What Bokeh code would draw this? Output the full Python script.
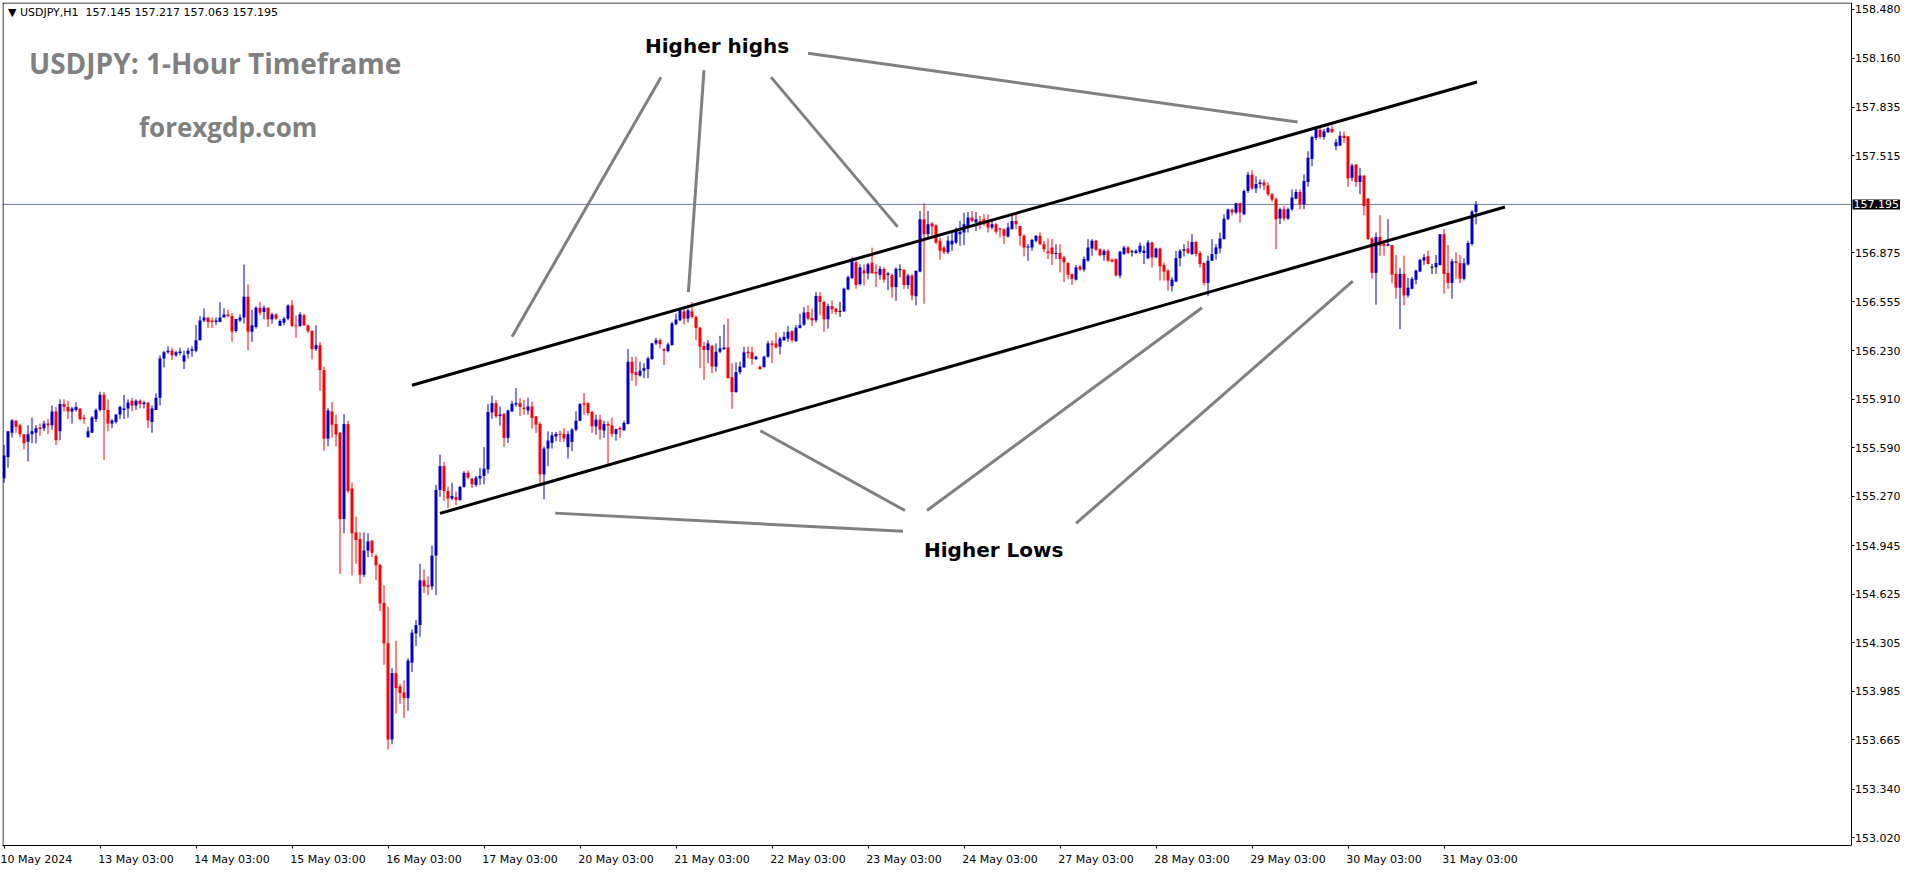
from bokeh.plotting import figure
from bokeh.models import (FixedTicker, PrintfTickFormatter, Span, Label, Range1d,
                          ColumnDataSource)
from bokeh.embed import file_html
from bokeh.resources import INLINE

# ---------------- data (USDJPY H1 candles, bar index 0 = 10 May 2024 03:00) -------------
bar_open = [
    155.39, 155.53, 155.69, 155.77, 155.74, 155.68, 155.63, 155.68, 155.69, 155.725,
    155.72, 155.75, 155.74, 155.83, 155.70, 155.88, 155.86, 155.83, 155.84, 155.85,
    155.79, 155.66, 155.69, 155.78, 155.84, 155.94, 155.84, 155.75, 155.76, 155.81,
    155.84, 155.85, 155.90, 155.87, 155.90, 155.88, 155.89, 155.76, 155.84, 155.92,
    156.18, 156.22, 156.23, 156.20, 156.215, 156.16, 156.21, 156.23, 156.23, 156.30,
    156.43, 156.45, 156.43, 156.42, 156.42, 156.45, 156.47, 156.46, 156.36, 156.43,
    156.449, 156.586, 156.355, 156.387, 156.514, 156.486, 156.514, 156.438, 156.470, 156.394,
    156.416, 156.442, 156.529, 156.396, 156.394, 156.464, 156.398, 156.361, 156.241, 156.267,
    156.103, 155.651, 155.830, 155.747, 155.689, 155.121, 155.747, 155.322, 155.033, 154.990,
    154.754, 154.913, 154.979, 154.876, 154.819, 154.568, 154.302, 153.668, 154.105, 154.018,
    153.978, 153.941, 154.175, 154.367, 154.422, 154.717, 154.684, 154.677, 154.880, 155.313,
    155.470, 155.306, 155.256, 155.267, 155.247, 155.333, 155.426, 155.387, 155.346, 155.389,
    155.405, 155.448, 155.824, 155.885, 155.800,
    155.816, 155.656, 155.831, 155.875, 155.885, 155.855, 155.837, 155.863, 155.798, 155.748,
    155.416, 155.586, 155.623, 155.665, 155.682, 155.682, 155.595, 155.630, 155.710, 155.769,
    155.883, 155.885, 155.826, 155.732, 155.776, 155.704, 155.748, 155.739, 155.682, 155.721,
    155.706, 155.748, 156.158, 156.089, 156.067, 156.099, 156.110, 156.176, 156.279, 156.300,
    156.241, 156.228, 156.268, 156.405, 156.431, 156.490, 156.442, 156.490, 156.453, 156.383,
    156.261, 156.235, 156.263, 156.126, 156.224, 156.241, 156.252, 156.056, 155.958, 156.089,
    156.121, 156.224, 156.220, 156.176, 156.126, 156.123, 156.191, 156.279, 156.279, 156.257,
    156.300, 156.311, 156.359, 156.294, 156.381, 156.403, 156.486, 156.446, 156.431, 156.591,
    156.552, 156.438, 156.525, 156.508, 156.490, 156.490, 156.635, 156.709, 156.813, 156.670,
    156.760, 156.740, 156.810, 156.750, 156.730, 156.770, 156.730, 156.730, 156.650, 156.765,
    156.765, 156.664, 156.726, 156.590, 156.752, 157.097, 156.999, 157.070, 157.058, 156.955,
    156.911, 156.879, 156.930, 156.944, 156.999, 157.010, 157.053, 157.108, 157.075, 157.086,
    157.097, 157.086, 157.042, 157.064, 157.036, 157.031, 156.983, 157.031, 157.086, 157.053,
    156.988, 156.911, 156.911, 156.955, 156.988, 156.933, 156.885, 156.911, 156.868, 156.874,
    156.846, 156.809, 156.737, 156.699, 156.787, 156.765, 156.824, 156.905, 156.955, 156.900,
    156.861, 156.889, 156.830, 156.835, 156.726, 156.868, 156.911, 156.883, 156.874, 156.883,
    156.874, 156.839, 156.944, 156.846, 156.905, 156.796, 156.758, 156.656, 156.686, 156.841,
    156.889, 156.905, 156.868, 156.948, 156.874, 156.809, 156.678, 156.824, 156.868, 156.905,
    156.966, 157.097, 157.162, 157.141, 157.202, 157.130, 157.283, 157.390, 157.300, 157.330,
    157.340, 157.320, 157.262, 157.229, 157.102, 157.163, 157.102, 157.163, 157.233, 157.277,
    157.196, 157.342, 157.495, 157.633, 157.687, 157.639, 157.670, 157.692, 157.578, 157.583,
    157.648, 157.644, 157.371, 157.458, 157.342, 157.386, 157.233, 156.971, 156.744, 156.981,
    156.934, 156.923, 156.927, 156.737, 156.646, 156.737, 156.595, 156.639, 156.698, 156.753,
    156.825, 156.853, 156.781, 156.781, 156.796, 156.999, 156.744, 156.678, 156.820, 156.809,
    156.705, 156.799, 156.934, 157.145,
]
bar_high = [
    155.61, 155.70, 155.78, 155.77, 155.75, 155.68, 155.74, 155.79, 155.74, 155.75,
    155.77, 155.78, 155.87, 155.86, 155.91, 155.91, 155.90, 155.86, 155.89, 155.85,
    155.81, 155.73, 155.80, 155.85, 155.96, 155.96, 155.91, 155.78, 155.81, 155.87,
    155.94, 155.91, 155.92, 155.91, 155.91, 155.90, 155.89, 155.87, 155.95, 156.20,
    156.23, 156.26, 156.25, 156.23, 156.25, 156.23, 156.25, 156.26, 156.40, 156.46,
    156.51, 156.45, 156.45, 156.45, 156.55, 156.51, 156.50, 156.48, 156.44, 156.47,
    156.798, 156.667, 156.500, 156.523, 156.551, 156.529, 156.514, 156.481, 156.477, 156.438,
    156.453, 156.536, 156.566, 156.464, 156.486, 156.475, 156.403, 156.366, 156.398, 156.289,
    156.125, 155.852, 155.892, 155.809, 155.695, 155.813, 155.769, 155.361, 155.138, 155.033,
    155.033, 155.027, 154.979, 154.891, 154.826, 154.684, 154.542, 154.138, 154.319, 154.035,
    154.057, 154.203, 154.393, 154.455, 154.826, 154.787, 154.743, 154.946, 155.346, 155.546,
    155.498, 155.335, 155.361, 155.302, 155.339, 155.437, 155.442, 155.394, 155.405, 155.459,
    155.595, 155.879, 155.935, 155.907, 155.863,
    155.816, 155.842, 155.900, 155.984, 155.918, 155.907, 155.922, 155.896, 155.800, 155.760,
    155.600, 155.699, 155.695, 155.695, 155.704, 155.721, 155.700, 155.721, 155.831, 155.885,
    155.951, 155.892, 155.835, 155.809, 155.809, 155.769, 155.765, 155.791, 155.715, 155.732,
    155.769, 156.241, 156.191, 156.191, 156.158, 156.148, 156.191, 156.283, 156.316, 156.311,
    156.250, 156.285, 156.421, 156.475, 156.508, 156.508, 156.508, 156.552, 156.464, 156.388,
    156.289, 156.300, 156.268, 156.279, 156.329, 156.403, 156.442, 156.148, 156.154, 156.158,
    156.257, 156.257, 156.257, 156.198, 156.132, 156.198, 156.296, 156.300, 156.351, 156.322,
    156.355, 156.394, 156.366, 156.399, 156.475, 156.519, 156.530, 156.508, 156.617, 156.617,
    156.562, 156.541, 156.562, 156.512, 156.552, 156.646, 156.726, 156.846, 156.835, 156.800,
    156.800, 156.810, 156.910, 156.800, 156.790, 156.780, 156.750, 156.740, 156.780, 156.800,
    156.765, 156.737, 156.737, 156.758, 157.152, 157.202, 157.152, 157.079, 157.064, 156.977,
    156.922, 156.988, 157.014, 157.042, 157.086, 157.141, 157.145, 157.152, 157.145, 157.119,
    157.130, 157.130, 157.101, 157.075, 157.042, 157.036, 157.075, 157.130, 157.130, 157.053,
    156.999, 156.933, 156.966, 156.992, 157.010, 156.955, 156.970, 156.966, 156.933, 156.933,
    156.857, 156.813, 156.737, 156.796, 156.796, 156.852, 156.966, 156.966, 156.962, 156.905,
    156.900, 156.900, 156.839, 156.839, 156.889, 156.922, 156.922, 156.896, 156.900, 156.944,
    156.922, 156.959, 156.948, 156.911, 156.911, 156.813, 156.769, 156.715, 156.889, 156.900,
    156.933, 156.955, 156.999, 156.955, 156.889, 156.813, 156.857, 156.966, 156.933, 157.010,
    157.130, 157.167, 157.167, 157.206, 157.206, 157.293, 157.410, 157.420, 157.380, 157.360,
    157.360, 157.340, 157.270, 157.240, 157.174, 157.185, 157.174, 157.294, 157.294, 157.294,
    157.393, 157.545, 157.648, 157.705, 157.698, 157.692, 157.709, 157.714, 157.626, 157.677,
    157.677, 157.644, 157.465, 157.458, 157.436, 157.386, 157.237, 156.978, 157.010, 157.124,
    156.945, 157.098, 156.927, 156.862, 156.777, 156.857, 156.711, 156.716, 156.764, 156.836,
    156.868, 156.890, 156.803, 156.862, 156.999, 157.032, 156.927, 156.836, 156.879, 156.862,
    156.840, 156.956, 157.157, 157.217,
]
bar_low = [
    155.36, 155.46, 155.66, 155.69, 155.66, 155.58, 155.50, 155.62, 155.62, 155.67,
    155.70, 155.68, 155.71, 155.61, 155.64, 155.83, 155.78, 155.75, 155.83, 155.77,
    155.75, 155.66, 155.69, 155.76, 155.83, 155.51, 155.70, 155.72, 155.75, 155.78,
    155.78, 155.79, 155.83, 155.84, 155.85, 155.85, 155.72, 155.69, 155.84, 155.87,
    156.12, 156.21, 156.17, 156.19, 156.20, 156.11, 156.18, 156.19, 156.22, 156.30,
    156.42, 156.38, 156.38, 156.40, 156.42, 156.45, 156.45, 156.29, 156.35, 156.42,
    156.409, 156.234, 156.289, 156.376, 156.464, 156.438, 156.387, 156.409, 156.435, 156.394,
    156.398, 156.431, 156.387, 156.315, 156.387, 156.394, 156.348, 156.173, 156.228, 155.966,
    155.573, 155.601, 155.656, 155.601, 154.760, 155.027, 155.295, 154.749, 154.826, 154.695,
    154.738, 154.870, 154.870, 154.717, 154.514, 154.160, 153.603, 153.636, 153.839, 153.904,
    153.810, 153.858, 154.112, 154.284, 154.345, 154.634, 154.618, 154.655, 154.618, 155.267,
    155.241, 155.193, 155.245, 155.212, 155.241, 155.328, 155.383, 155.324, 155.333, 155.346,
    155.350, 155.420, 155.782, 155.787, 155.737,
    155.597, 155.623, 155.826, 155.860, 155.800, 155.809, 155.809, 155.717, 155.689, 155.361,
    155.252, 155.470, 155.586, 155.634, 155.630, 155.630, 155.520, 155.569, 155.700, 155.765,
    155.809, 155.804, 155.689, 155.678, 155.645, 155.656, 155.485, 155.660, 155.638, 155.656,
    155.704, 155.744, 156.032, 155.999, 156.060, 156.049, 156.049, 156.169, 156.268, 156.246,
    156.137, 156.220, 156.263, 156.399, 156.425, 156.403, 156.416, 156.442, 156.300, 156.115,
    156.038, 156.148, 156.082, 156.093, 156.213, 156.235, 156.049, 155.848, 155.953, 156.075,
    156.119, 156.180, 156.137, 156.169, 156.104, 156.119, 156.185, 156.148, 156.246, 156.206,
    156.296, 156.289, 156.285, 156.289, 156.377, 156.394, 156.431, 156.394, 156.416, 156.464,
    156.355, 156.377, 156.475, 156.469, 156.453, 156.486, 156.628, 156.704, 156.640, 156.660,
    156.660, 156.700, 156.740, 156.650, 156.700, 156.680, 156.630, 156.580, 156.560, 156.715,
    156.638, 156.638, 156.562, 156.529, 156.747, 156.540, 156.977, 156.988, 156.933, 156.830,
    156.868, 156.868, 156.889, 156.933, 156.922, 156.927, 157.010, 157.079, 157.020, 157.031,
    157.053, 157.010, 157.031, 156.999, 156.977, 156.933, 156.977, 157.031, 157.031, 156.922,
    156.852, 156.824, 156.889, 156.944, 156.927, 156.880, 156.835, 156.796, 156.835, 156.747,
    156.682, 156.704, 156.664, 156.693, 156.758, 156.752, 156.817, 156.857, 156.889, 156.852,
    156.824, 156.817, 156.813, 156.721, 156.708, 156.861, 156.868, 156.852, 156.868, 156.868,
    156.802, 156.835, 156.780, 156.841, 156.693, 156.693, 156.627, 156.621, 156.682, 156.787,
    156.852, 156.868, 156.861, 156.852, 156.780, 156.660, 156.590, 156.824, 156.830, 156.874,
    156.966, 157.093, 157.123, 157.130, 157.075, 157.123, 157.270, 157.290, 157.270, 157.300,
    157.290, 157.250, 157.210, 156.900, 157.065, 157.087, 157.093, 157.152, 157.229, 157.163,
    157.163, 157.312, 157.447, 157.618, 157.626, 157.622, 157.666, 157.666, 157.552, 157.578,
    157.600, 157.312, 157.349, 157.312, 157.262, 157.124, 156.960, 156.705, 156.534, 156.857,
    156.857, 156.920, 156.678, 156.574, 156.373, 156.530, 156.580, 156.635, 156.668, 156.748,
    156.796, 156.799, 156.737, 156.737, 156.792, 156.606, 156.639, 156.574, 156.705, 156.676,
    156.694, 156.792, 156.923, 157.063,
]
bar_close = [
    155.54, 155.70, 155.77, 155.73, 155.68, 155.62, 155.68, 155.70, 155.72, 155.715,
    155.75, 155.74, 155.83, 155.64, 155.88, 155.86, 155.83, 155.85, 155.86, 155.78,
    155.78, 155.70, 155.79, 155.84, 155.94, 155.84, 155.75, 155.77, 155.81, 155.86,
    155.85, 155.89, 155.87, 155.90, 155.88, 155.89, 155.77, 155.85, 155.92, 156.18,
    156.22, 156.23, 156.20, 156.22, 156.225, 156.20, 156.23, 156.24, 156.30, 156.43,
    156.45, 156.42, 156.42, 156.43, 156.45, 156.47, 156.46, 156.355, 156.44, 156.45,
    156.586, 156.355, 156.398, 156.514, 156.481, 156.514, 156.438, 156.470, 156.442, 156.427,
    156.442, 156.529, 156.394, 156.392, 156.470, 156.398, 156.359, 156.241, 156.267, 156.103,
    155.651, 155.837, 155.743, 155.678, 155.121, 155.747, 155.306, 155.027, 154.983, 154.754,
    154.913, 154.974, 154.898, 154.815, 154.564, 154.302, 153.668, 154.105, 154.007, 153.974,
    153.941, 154.188, 154.372, 154.422, 154.717, 154.677, 154.673, 154.880, 155.313, 155.470,
    155.306, 155.256, 155.274, 155.247, 155.333, 155.426, 155.394, 155.350, 155.394, 155.405,
    155.453, 155.826, 155.885, 155.798, 155.810,
    155.656, 155.837, 155.881, 155.885, 155.860, 155.846, 155.863, 155.787, 155.743, 155.416,
    155.586, 155.638, 155.673, 155.682, 155.678, 155.652, 155.680, 155.710, 155.769, 155.879,
    155.874, 155.820, 155.732, 155.776, 155.710, 155.748, 155.737, 155.682, 155.715, 155.710,
    155.754, 156.158, 156.082, 156.071, 156.099, 156.115, 156.180, 156.279, 156.300, 156.274,
    156.231, 156.272, 156.410, 156.436, 156.497, 156.442, 156.497, 156.453, 156.381, 156.257,
    156.235, 156.279, 156.126, 156.224, 156.246, 156.252, 156.049, 155.958, 156.089, 156.126,
    156.220, 156.213, 156.176, 156.191, 156.110, 156.191, 156.279, 156.268, 156.252, 156.311,
    156.322, 156.355, 156.300, 156.383, 156.399, 156.482, 156.442, 156.431, 156.591, 156.552,
    156.438, 156.525, 156.504, 156.486, 156.490, 156.639, 156.715, 156.825, 156.664, 156.780,
    156.740, 156.800, 156.740, 156.740, 156.770, 156.700, 156.740, 156.650, 156.770, 156.765,
    156.664, 156.726, 156.595, 156.758, 157.097, 156.999, 157.064, 157.049, 156.944, 156.889,
    156.879, 156.955, 156.955, 157.020, 157.014, 157.064, 157.108, 157.086, 157.097, 157.064,
    157.075, 157.042, 157.064, 157.014, 157.031, 156.988, 157.042, 157.086, 157.064, 156.988,
    156.911, 156.918, 156.962, 156.988, 156.933, 156.900, 156.874, 156.868, 156.874, 156.835,
    156.813, 156.732, 156.704, 156.780, 156.765, 156.835, 156.911, 156.955, 156.896, 156.861,
    156.889, 156.824, 156.817, 156.726, 156.883, 156.911, 156.874, 156.883, 156.889, 156.922,
    156.889, 156.944, 156.846, 156.905, 156.787, 156.752, 156.693, 156.699, 156.841, 156.889,
    156.900, 156.874, 156.948, 156.868, 156.802, 156.678, 156.824, 156.868, 156.911, 156.970,
    157.101, 157.162, 157.141, 157.202, 157.141, 157.283, 157.390, 157.300, 157.330, 157.340,
    157.320, 157.262, 157.228, 157.098, 157.163, 157.102, 157.163, 157.240, 157.277, 157.196,
    157.349, 157.502, 157.639, 157.692, 157.639, 157.677, 157.698, 157.670, 157.604, 157.648,
    157.633, 157.366, 157.452, 157.342, 157.386, 157.185, 156.967, 156.744, 156.981, 156.923,
    156.923, 156.932, 156.733, 156.646, 156.737, 156.595, 156.646, 156.705, 156.759, 156.829,
    156.847, 156.803, 156.781, 156.809, 156.999, 156.737, 156.678, 156.820, 156.809, 156.705,
    156.807, 156.941, 157.148, 157.195,
]

date_tick_bars = [0, 24, 48, 72, 96, 120, 144, 168, 192, 216, 240, 264, 288, 312, 336, 360]
date_labels = ["10 May 2024", "13 May 03:00", "14 May 03:00", "15 May 03:00",
               "16 May 03:00", "17 May 03:00", "20 May 03:00", "21 May 03:00",
               "22 May 03:00", "23 May 03:00", "24 May 03:00", "27 May 03:00",
               "28 May 03:00", "29 May 03:00", "30 May 03:00", "31 May 03:00"]
price_ticks = [158.480, 158.160, 157.835, 157.515, 157.195, 156.875, 156.555, 156.230,
               155.910, 155.590, 155.270, 154.945, 154.625, 154.305, 153.985, 153.665,
               153.340, 153.020]
last_price = 157.195
header_text = "\u25BC USDJPY,H1\u00a0\u00a0157.145 157.217 157.063 157.195"

# trend channel (bar index, price)
channel_upper_x = [102.0, 368.25]
channel_upper_y = [156.003, 158.002]
channel_lower_x = [109.0, 375.25]
channel_lower_y = [155.158, 157.178]

# grey pointer lines: from label to swing point
pointer_x0 = [164.25, 175.0, 191.75, 201.0, 224.75, 225.25, 230.75, 268.0]
pointer_y0 = [158.034, 158.080, 158.034, 158.192, 155.040, 155.177, 155.177, 155.092]
pointer_x1 = [127.0, 171.1, 223.4, 323.4, 137.8, 189.1, 299.5, 337.2]
pointer_y1 = [156.322, 156.617, 157.047, 157.738, 155.160, 155.703, 156.514, 156.689]

annotations = [
    # text, bar x, price y, size, weight, color, font
    ("USDJPY: 1-Hour Timeframe", 6.25, 158.126, "28px", "bold", "#808080", "Open Sans"),
    ("forexgdp.com", 33.75, 157.707, "26px", "bold", "#808080", "Open Sans"),
    ("Higher highs", 160.25, 158.241, "20px", "bold", "#000000", "DejaVu Sans"),
    ("Higher Lows", 230.0, 154.920, "20px", "bold", "#000000", "DejaVu Sans"),
]

assert len(bar_open) == len(bar_high) == len(bar_low) == len(bar_close)

# ---------------- derived drawing columns -------------
n = len(bar_close)
xs = list(range(n))
colors, tops, bots = [], [], []
min_body = 1.0 / 152.6
for o, c in zip(bar_open, bar_close):
    if c > o:
        colors.append("#0000CD")
    elif c < o:
        colors.append("#FF0000")
    else:
        colors.append("#000000")
    t, b = max(o, c), min(o, c)
    if t - b < min_body:
        m = (t + b) / 2
        t, b = m + min_body / 2, m - min_body / 2
    tops.append(t)
    bots.append(b)

src = ColumnDataSource(dict(x=xs, high=bar_high, low=bar_low, top=tops, bottom=bots,
                            color=colors))

# ---------------- geometry -------------
W, H = 1900, 868
BL, BT, BR, BB = 2, 2, 0, 18            # the price scale lives inside the frame
FW, FH = W - BL - BR, H - BT - BB
PX_PER_BAR, PX_PER_YEN = 4.0, 152.6
x0 = -0.375
y1 = 158.526
xr = Range1d(x0, x0 + FW / PX_PER_BAR)
yr = Range1d(y1 - FH / PX_PER_YEN, y1)
SCALE_PX = 1850                          # page x of the price-scale line


def x_at(px):
    return x0 + (px - BL) / PX_PER_BAR


x_scale = x_at(SCALE_PX + 0.5)

p = figure(width=W, height=H, output_backend="svg", toolbar_location=None,
           x_range=xr, y_range=yr, y_axis_location="right",
           min_border_left=BL, min_border_top=BT, min_border_right=BR,
           min_border_bottom=BB, background_fill_color="white",
           border_fill_color="white")
p.grid.visible = False
p.outline_line_color = None

# x axis (date scale), limited to the chart area
xa = p.xaxis[0]
label_pos = [t + (8 if i == 0 else 9) for i, t in enumerate(date_tick_bars)]
xa.ticker = FixedTicker(ticks=label_pos, minor_ticks=date_tick_bars)
xa.major_label_overrides = {lp: lab for lp, lab in zip(label_pos, date_labels)}
xa.bounds = (x0, x_scale)
xa.major_tick_out = 0
xa.major_tick_in = 0
xa.minor_tick_out = 3
xa.minor_tick_in = 0
xa.minor_tick_line_color = "black"
xa.axis_line_color = "black"
xa.major_label_standoff = 4
xa.major_label_text_font = "DejaVu Sans"
xa.major_label_text_font_size = "11px"
xa.major_label_text_color = "black"

# y axis (price scale) drawn at a fixed position at the right of the chart area;
# the last-price level gets its own highlighted box instead of a plain label
ya = p.yaxis[0]
ya.fixed_location = x_scale
ya.ticker = FixedTicker(ticks=[t for t in price_ticks if t != last_price], minor_ticks=[])
ya.formatter = PrintfTickFormatter(format="%.3f")
ya.major_tick_out = 3
ya.major_tick_in = 0
ya.minor_tick_out = 0
ya.minor_tick_in = 0
ya.major_tick_line_color = "black"
ya.axis_line_color = "black"
ya.major_label_standoff = 1
ya.major_label_text_font = "DejaVu Sans"
ya.major_label_text_font_size = "11px"
ya.major_label_text_color = "black"

# left and top border of the chart area
p.add_layout(Span(location=x_at(BL + 0.5), dimension="height", line_color="black",
                  line_width=1))
p.segment(x0=[x0], y0=[y1 - 0.5 / PX_PER_YEN], x1=[x_scale],
          y1=[y1 - 0.5 / PX_PER_YEN], line_color="black", line_width=1)

# last price line
p.segment(x0=[x0], y0=[last_price], x1=[x_scale], y1=[last_price],
          line_color="#708090", line_width=1, level="underlay")

# candles
p.segment(x0="x", y0="low", x1="x", y1="high", line_color="color", line_width=1,
          source=src)
p.vbar(x="x", width=0.75, top="top", bottom="bottom", fill_color="color",
       line_color=None, source=src)

# channel
p.line(channel_upper_x, channel_upper_y, line_color="black", line_width=3)
p.line(channel_lower_x, channel_lower_y, line_color="black", line_width=3)

# pointer lines
p.segment(x0=pointer_x0, y0=pointer_y0, x1=pointer_x1, y1=pointer_y1,
          line_color="#808080", line_width=3)

# texts
p.add_layout(Label(x=1.0, y=158.460, text=header_text, text_font="DejaVu Sans",
                   text_font_size="11px", text_color="black", text_baseline="middle"))
for txt, tx, ty, fs, fw, col, fnt in annotations:
    p.add_layout(Label(x=tx, y=ty, text=txt, text_font=fnt, text_font_size=fs,
                       text_font_style=fw, text_color=col, text_baseline="alphabetic"))

# current price box on the price scale (kept inside the canvas)
p.add_layout(Label(x=x_at(SCALE_PX + 2), y=last_price, text=f"{last_price:.3f}",
                   text_font="DejaVu Sans", text_font_size="11px",
                   text_color="#FFFFFF", text_baseline="middle",
                   background_fill_color="#000000", background_fill_alpha=1.0,
                   padding=1))

open("out.html", "w").write(file_html(p, INLINE))
